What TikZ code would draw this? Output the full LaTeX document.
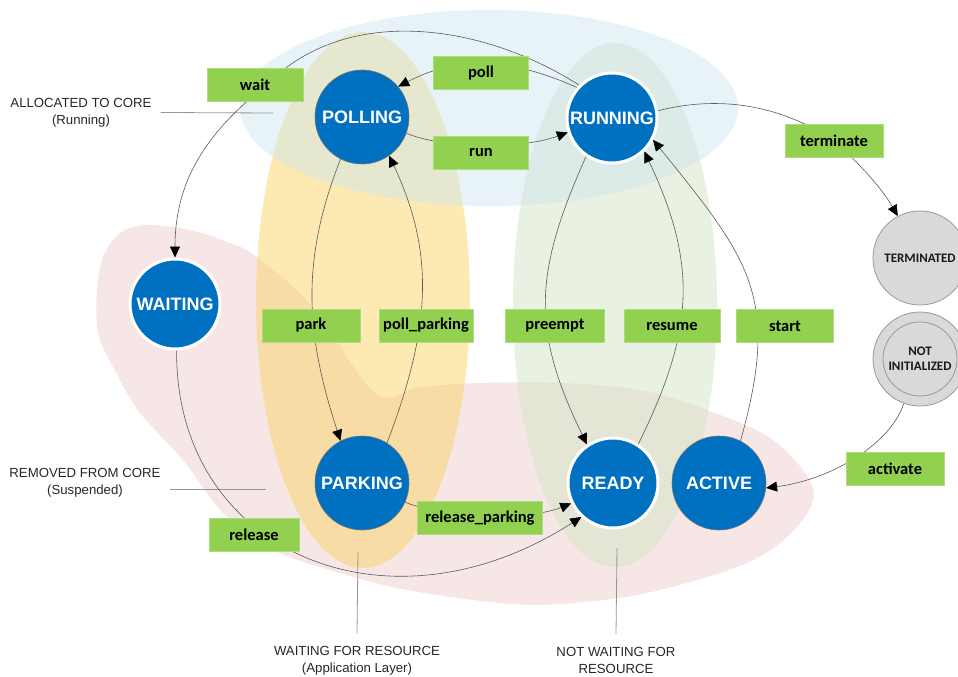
\documentclass[tikz,border=0pt]{standalone}
\usepackage{fontspec}
\setmainfont{Liberation Sans}
\newfontfamily\lblfamily{Carlito}
\usetikzlibrary{arrows.meta}

\definecolor{stateblue}{RGB}{0,112,192}
\definecolor{lblgreen}{RGB}{146,208,80}
\definecolor{regblue}{RGB}{207,231,237}
\definecolor{regorange}{RGB}{251,211,101}
\definecolor{regpink}{RGB}{237,207,205}
\definecolor{reggreen}{RGB}{211,227,197}
\definecolor{edgegray}{RGB}{90,90,90}
\definecolor{annotgray}{RGB}{150,150,150}
\definecolor{termgray}{RGB}{217,217,217}

\pgfdeclarelayer{regions}
\pgfdeclarelayer{edges}
\pgfsetlayers{regions,edges,main}

\begin{document}
\begin{tikzpicture}[x=1pt,y=-1pt,
  state/.style={circle, fill=stateblue, text=white, inner sep=0pt,
    font=\fontsize{18}{20}\selectfont\bfseries},
  ringstate/.style={state, draw=white, line width=3pt, minimum size=90pt},
  flatstate/.style={state, draw=black!55, line width=0.6pt, minimum size=94pt},
  endstate/.style={circle, fill=termgray, draw=black!40, line width=0.8pt,
    minimum size=94pt, inner sep=0pt, align=center, text=black!90,
    font=\lblfamily\fontsize{13}{15}\selectfont\bfseries},
  trans/.style={rectangle, fill=lblgreen, draw=lblgreen!75!white, line width=0.8pt,
    minimum width=96pt, minimum height=33pt, inner sep=0pt, text=black,
    font=\lblfamily\fontsize{16.5}{18}\selectfont\bfseries},
  edge/.style={draw=edgegray, line width=0.6pt,
    -{Triangle[length=11pt,width=10pt,color=black]}},
  annot/.style={align=center, text=black!85, inner sep=0pt,
    font=\fontsize{13.2}{17}\selectfont},
  annotline/.style={draw=annotgray, line width=0.8pt},
]
\useasboundingbox (0,0) rectangle (958,677);

% ---------- state groups ----------
\begin{pgfonlayer}{regions}
  \fill[regpink, fill opacity=0.5] plot[smooth cycle, tension=0.55] coordinates {
    (147,225) (190,230) (230,243) (257,257) (313,307) (375,393) (420,387)
    (480,383) (560,383) (640,390) (707,410) (773,440) (813,488) (797,527)
    (747,563) (647,593) (560,604) (500,603) (407,590) (340,573) (273,550)
    (223,513) (183,460) (140,413) (113,367) (98,333) (97,290) (103,257) (120,233)};
  \fill[regorange, fill opacity=0.5] (363,300) ellipse [x radius=107, y radius=268];
  \fill[reggreen, fill opacity=0.5] (615,305) ellipse [x radius=102, y radius=262];
  \fill[regblue, fill opacity=0.5] (489,108) ellipse [x radius=249, y radius=98];
\end{pgfonlayer}

% ---------- states ----------
\node[flatstate] (polling) at (362,117) {POLLING};
\node[ringstate] (running) at (612,118) {RUNNING};
\node[ringstate] (waiting) at (175,304) {WAITING};
\node[flatstate] (parking) at (362,483) {PARKING};
\node[ringstate] (ready)   at (613,483) {READY};
\node[flatstate] (active)  at (719,483) {ACTIVE};
\node[endstate]  (terminated) at (920,258) {TERMINATED};
\node[endstate]  (notinit) at (920,359) {NOT\\INITIALIZED};
\draw[draw=black!40, line width=0.8pt] (notinit.center) circle [radius=37pt];

% ---------- transition labels ----------
\node[trans] (wait) at (255,84.5) {wait};
\node[trans, minimum width=95pt] (poll) at (481,73) {poll};
\node[trans, minimum width=95pt] (run) at (481,152.5) {run};
\node[trans, minimum width=98pt] (terminate) at (834,140.5) {terminate};
\node[trans, minimum width=98pt] (park) at (311,325.5) {park};
\node[trans, minimum width=94pt] (pollparking) at (426,325.5) {poll\_parking};
\node[trans, minimum width=99pt] (preempt) at (555,326) {preempt};
\node[trans] (resume) at (672,326) {resume};
\node[trans, minimum width=97pt] (start) at (785,326) {start};
\node[trans, minimum width=98pt] (activate) at (895,469) {activate};
\node[trans, minimum width=90pt] (release) at (254,534.5) {release};
\node[trans, minimum width=125pt] (releaseparking) at (480,518) {release\_parking};

% ---------- side annotations ----------
\node[annot] (alloc) at (81,112.5) {ALLOCATED TO CORE\\(Running)};
\node[annot] (removed) at (85,483) {REMOVED FROM CORE\\(Suspended)};
\node[annot] (waitres) at (357,660.5) {WAITING FOR RESOURCE\\(Application Layer)};
\node[annot] (notwaitres) at (616,660.5) {NOT WAITING FOR\\RESOURCE};
\coordinate (allocend) at (273,113);
\coordinate (removedend) at (266,489);
\coordinate (waitresend) at (358,552);
\coordinate (notwaitresend) at (617,548);

% ---------- transitions ----------
\begin{pgfonlayer}{edges}
  \draw[annotline] ([xshift=9pt]alloc.east) -- (allocend);
  \draw[annotline] ([xshift=9pt]removed.east |- removedend) -- (removedend);
  \draw[annotline] ([yshift=13pt]waitres.north) -- (waitresend);
  \draw[annotline] ([yshift=13pt]notwaitres.north) -- (notwaitresend);

  \draw[edge] (running.135) .. controls (480,22) and (345,5) .. ([xshift=12pt]wait.center)
              .. controls (207,132) and (175,180) .. (waiting.north);
  \draw[edge] (running.139) .. controls (513,59) and (461,54) .. (polling.40);
  \draw[edge] (polling.-20) .. controls (440,148) and (520,150) .. (running.198);
  \draw[edge] (running.9) .. controls (720,95) and (780,105) .. (terminate.center)
              .. controls (855,160) and (880,185) .. (terminated.118);
  \draw[edge] (polling.243) .. controls (300,262) and (306,335) .. (parking.117);
  \draw[edge] (parking.58) .. controls (430,330) and (436,255) .. (polling.-55);
  \draw[edge] (running.236) .. controls (535,271) and (530,328) .. (ready.124);
  \draw[edge] (ready.57) .. controls (693,333) and (699,267) .. (running.-46);
  \draw[edge] (active.63) .. controls (781,297) and (750,260) .. (running.-28);
  \draw[edge] (notinit.250) .. controls (890,445) and (830,480) .. (active.-6);
  \draw[edge] (parking.-24) .. controls (450,520) and (530,520) .. (ready.206);
  \draw[edge] (waiting.-88) .. controls (175,552) and (387,642) .. (ready.227);
\end{pgfonlayer}
\end{tikzpicture}
\end{document}
